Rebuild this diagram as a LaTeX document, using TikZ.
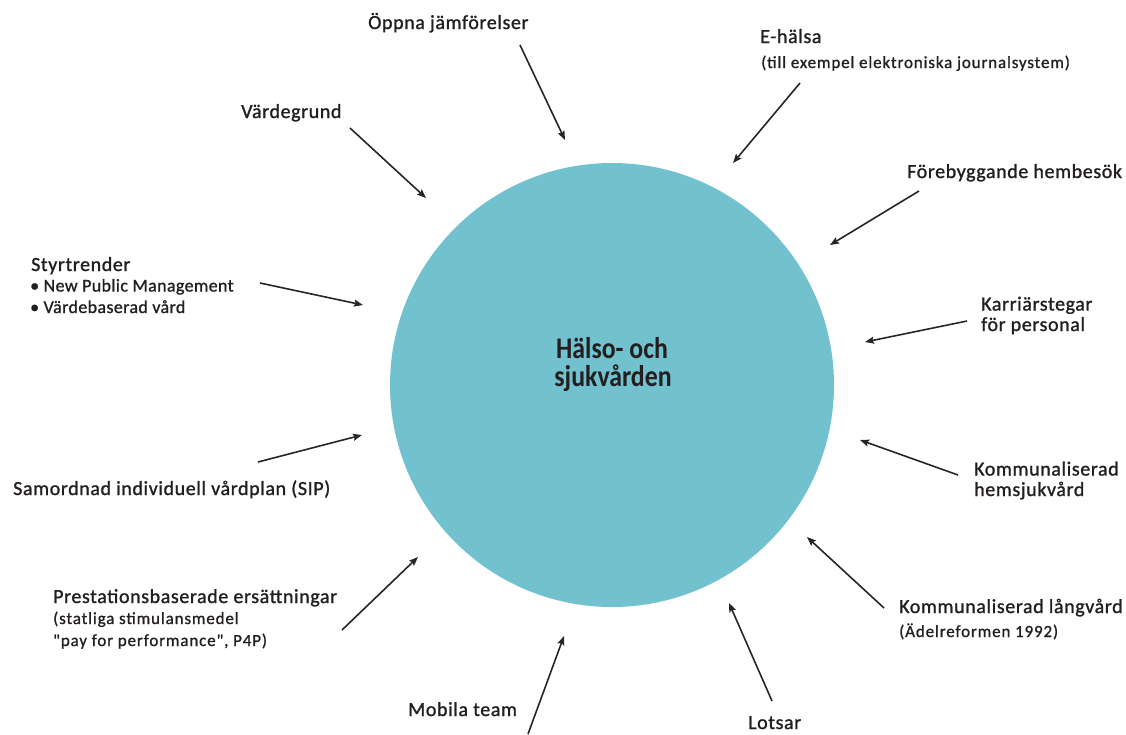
\documentclass[tikz,border=0pt]{standalone}
\usepackage{graphicx}
\usepackage{fontspec}
\setmainfont{Carlito}[Ligatures=TeXOff]
\usetikzlibrary{arrows.meta}
\definecolor{hubfill}{HTML}{71C2CE}
\definecolor{ink}{HTML}{231F20}
\definecolor{arrowink}{HTML}{262626}
\begin{document}
\begin{tikzpicture}[x=1pt,y=-1pt,
  lbl/.style={inner sep=0pt, text=ink, font=\fontsize{20}{20.5}\selectfont\addfontfeature{LetterSpace=3,FakeBold=1.2}, align=left},
  sublbl/.style={inner sep=0pt, text=ink, font=\fontsize{17}{22}\selectfont\addfontfeature{LetterSpace=5,FakeBold=1}, align=left},
  hubtxt/.style={inner sep=0pt, text=ink, font=\bfseries\fontsize{30}{28}\selectfont},
  arr/.style={draw=arrowink, line width=1.6pt, -{Stealth[length=9pt,width=7pt,inset=1.5pt]}}]
\useasboundingbox (0,0) rectangle (1126,734);
% hub
\node[circle, fill=hubfill, inner sep=0pt, minimum size=444pt] (hub) at (612,385) {};
\node[hubtxt, anchor=base] (hubtext) at (612,358) {\scalebox{0.86}[1]{Hälso- och}};
\node[hubtxt, anchor=base] (hubtext2) at (613,386) {\scalebox{0.86}[1]{sjukvården}};
% labels (multi-line nodes: base = baseline of last line)
\node[lbl, anchor=base west] (oppna) at (368,29) {Öppna jämförelser};
\node[lbl, anchor=base west] (ehalsa) at (760,43) {E-hälsa};
\node[sublbl, anchor=base west] (ehalsasub) at (761,68) {(till exempel elektroniska journalsystem)};
\node[lbl, anchor=base west] (vardegrund) at (241,118) {Värdegrund};
\node[lbl, anchor=base west] (foreb) at (907,178) {Förebyggande hembesök};
\node[lbl, anchor=base west] (styr) at (31,271) {Styrtrender};
\node[sublbl, anchor=base west, font=\fontsize{18}{21.5}\selectfont\addfontfeature{LetterSpace=2,FakeBold=1}] (styrsub) at (30,313) {• New Public Management\\• Värdebaserad vård};
\node[lbl, anchor=base west] (karriar) at (981,331) {Karriärstegar\\för personal};
\node[lbl, anchor=base west] (sip) at (13,495) {Samordnad individuell vårdplan (SIP)};
\node[lbl, anchor=base west] (hemsjuk) at (974,496) {Kommunaliserad\\hemsjukvård};
\node[lbl, anchor=base west] (prest) at (53,603) {Prestationsbaserade ersättningar};
\node[sublbl, anchor=base west] (prestsub) at (53,646) {(statliga stimulansmedel\\"pay for performance", P4P)};
\node[lbl, anchor=base west] (langvard) at (899,613) {Kommunaliserad långvård};
\node[sublbl, anchor=base west] (langvardsub) at (899,637) {(Ädelreformen 1992)};
\node[lbl, anchor=base west] (mobila) at (408,716) {Mobila team};
\node[lbl, anchor=base west] (lotsar) at (748,729) {Lotsar};
% arrow end points
\coordinate (s1) at (520,45);  \coordinate (e1) at (565,140);
\coordinate (s2) at (800,83);  \coordinate (e2) at (733,163);
\coordinate (s3) at (350,128); \coordinate (e3) at (426,198);
\coordinate (s4) at (919,191); \coordinate (e4) at (830,245);
\coordinate (s5) at (260,283); \coordinate (e5) at (363,305);
\coordinate (s6) at (967,321); \coordinate (e6) at (865,342);
\coordinate (s7) at (258,462); \coordinate (e7) at (362,435);
\coordinate (s8) at (958,475); \coordinate (e8) at (860,440);
\coordinate (s9) at (342,630); \coordinate (e9) at (418,557);
\coordinate (s10) at (884,608); \coordinate (e10) at (807,537);
\coordinate (s11) at (528,734); \coordinate (e11) at (564,636);
\coordinate (s12) at (772,701); \coordinate (e12) at (729,603);
\foreach \i in {1,...,12} {\draw[arr] (s\i) -- (e\i);}
\end{tikzpicture}
\end{document}
